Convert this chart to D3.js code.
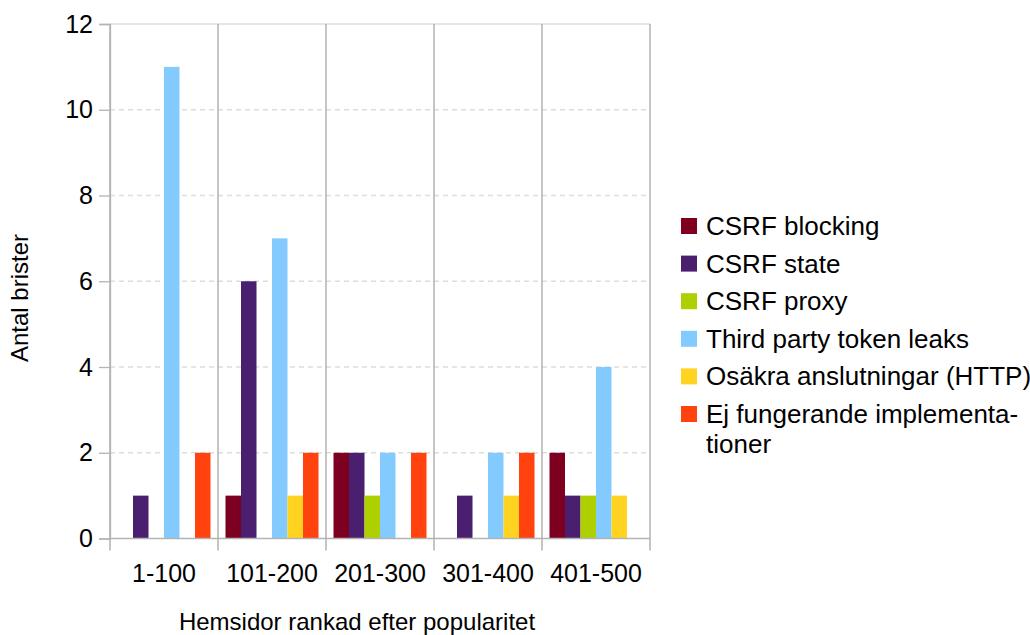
<!DOCTYPE html>
<html><head><meta charset="utf-8">
<script src="https://cdn.jsdelivr.net/npm/d3@7"></script>
<style>body{margin:0;background:#fff}svg{display:block;font-family:"Liberation Sans",Arial,sans-serif}</style>
</head><body><svg id="c" width="1030" height="635"></svg>
<script>
const categories = ["1-100","101-200","201-300","301-400","401-500"];
const seriesNames = ["CSRF blocking","CSRF state","CSRF proxy","Third party token leaks","Osäkra anslutningar (HTTP)","Ej fungerande implementa-\ntioner"];
const csrfBlocking = [0,1,2,0,2];
const csrfState = [1,6,2,1,1];
const csrfProxy = [0,0,1,0,1];
const thirdParty = [11,7,2,2,4];
const osakra = [0,1,0,1,1];
const ejFungerande = [2,2,2,2,0];
const yTicks = [0,2,4,6,8,10,12];
const colors = ["#7e0021","#4b1f6f","#aecf00","#83caff","#ffd320","#ff420e"];

const allSeries = [csrfBlocking,csrfState,csrfProxy,thirdParty,osakra,ejFungerande];
const svg = d3.select("#c");
const L=110,R=650,T=24,B=538.5;
const x0 = d3.scaleBand().domain(categories).range([L,R]).padding(0);
const x1 = d3.scaleBand().domain(d3.range(seriesNames.length)).range([7.5, x0.bandwidth()-7.5]).padding(0);
const y = d3.scaleLinear().domain([0,12]).range([B,T]);

// horizontal grid
svg.append("g").selectAll("line").data(yTicks.filter(t=>t>0)).join("line")
  .attr("x1",L).attr("x2",R).attr("y1",d=>y(d)).attr("y2",d=>y(d))
  .attr("stroke","#dddddd").attr("stroke-width",1.3)
  .attr("stroke-dasharray",d=>d===12?null:"5,4");

// vertical category separators
svg.append("g").selectAll("line").data(categories.map(c=>x0(c)).concat([R])).join("line")
  .attr("x1",d=>d).attr("x2",d=>d).attr("y1",T).attr("y2",B+12)
  .attr("stroke","#a6a6a6").attr("stroke-width",1.3);

// bars
const g = svg.append("g");
categories.forEach((c,ci)=>{
  allSeries.forEach((s,si)=>{
    if(s[ci]>0) g.append("rect")
      .attr("x",x0(c)+x1(si)).attr("width",x1.bandwidth())
      .attr("y",y(s[ci])).attr("height",y(0)-y(s[ci]))
      .attr("fill",colors[si]);
  });
});

// baseline
svg.append("line").attr("x1",L).attr("x2",R).attr("y1",y(0)).attr("y2",y(0))
  .attr("stroke","#b3b3b3").attr("stroke-width",1.5);

const FF = "Liberation Sans, Arial, sans-serif";
// y axis
const ya = svg.append("g").attr("transform",`translate(${L},0)`)
  .call(d3.axisLeft(y).tickValues(yTicks).tickSize(11).tickPadding(6));
ya.select(".domain").attr("stroke","#b3b3b3").attr("stroke-width",1.3);
ya.selectAll(".tick line").attr("stroke","#b3b3b3").attr("stroke-width",1.3);
ya.selectAll(".tick text").attr("font-size",25).attr("fill","#000").attr("font-family",FF);

// x labels
const xa = svg.append("g").attr("transform",`translate(0,${B})`)
  .call(d3.axisBottom(x0).tickSize(0).tickPadding(26));
xa.select(".domain").remove();
xa.selectAll(".tick text").attr("font-size",25).attr("fill","#000").attr("font-family",FF);

// axis titles
svg.append("text").attr("x",357).attr("y",630).attr("text-anchor","middle")
  .attr("font-size",24).text("Hemsidor rankad efter popularitet");
svg.append("text").attr("transform","translate(28,298) rotate(-90)").attr("text-anchor","middle")
  .attr("font-size",24).text("Antal brister");

// legend
const lg = svg.append("g");
seriesNames.forEach((n,i)=>{
  const cy = 226 + i*37.6;
  lg.append("rect").attr("x",681).attr("y",cy-8).attr("width",16).attr("height",16).attr("fill",colors[i]);
  const lines = n.split("\n");
  const t = lg.append("text").attr("x",706).attr("y",cy+9).attr("font-size",26);
  lines.forEach((ln,k)=>t.append("tspan").attr("x",706).attr("dy",k?30:0).text(ln));
});
</script></body></html>
